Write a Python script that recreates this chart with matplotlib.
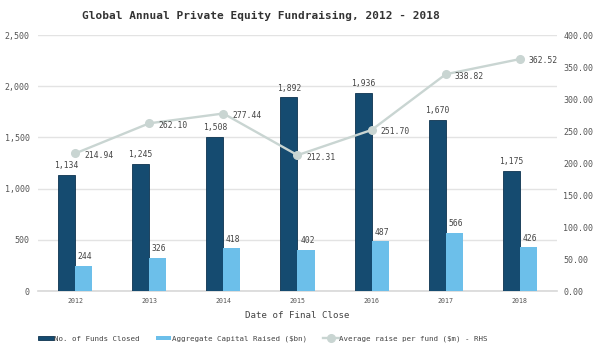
import matplotlib
matplotlib.use("Agg")
import matplotlib.pyplot as plt
import numpy as np

years = ["2012", "2013", "2014", "2015", "2016", "2017", "2018"]
funds_closed = [1134, 1245, 1508, 1892, 1936, 1670, 1175]
capital_raised = [244, 326, 418, 402, 487, 566, 426]
avg_raise = [214.94, 262.10, 277.44, 212.31, 251.70, 338.82, 362.52]

plt.rcParams["font.family"] = ["DejaVu Sans Mono"]

dark = "#154b70"
light = "#6cbfea"
line_col = "#c9d5d2"
text_col = "#444444"

fig = plt.figure(figsize=(6, 3.53), dpi=100)
ax = fig.add_axes([0.0633, 0.1756, 0.865, 0.725])
ax2 = ax.twinx()

x = np.arange(len(years))
w = 0.23
b1 = ax.bar(x - w / 2, funds_closed, w, color=dark, edgecolor="#0d3350",
            linewidth=0.6, label="No. of Funds Closed", zorder=3)
b2 = ax.bar(x + w / 2, capital_raised, w, color=light,
            label="Aggregate Capital Raised ($bn)", zorder=3)

for xi, v in zip(x, funds_closed):
    ax.text(xi - w / 2, v + 45, f"{v:,}", ha="center", va="bottom",
            fontsize=5.8, color=text_col, zorder=4)
for xi, v in zip(x, capital_raised):
    ax.text(xi + w / 2 + 0.02, v + 45, f"{v}", ha="center", va="bottom",
            fontsize=5.8, color=text_col, zorder=4)

ln, = ax2.plot(x, avg_raise, color=line_col, linewidth=1.7, marker="o",
               markersize=5.5, label="Average raise per fund ($m) - RHS", zorder=5)
for xi, v in zip(x, avg_raise):
    ax2.text(xi + 0.12, v - 3, f"{v:.2f}", ha="left", va="center",
             fontsize=5.8, color=text_col, zorder=6)

ax.set_xlim(-0.5, 6.5)
ax.set_ylim(0, 2500)
ax2.set_ylim(0, 400)
ax.set_yticks(np.arange(0, 2501, 500))
ax.set_yticklabels([f"{v:,}" for v in range(0, 2501, 500)])
ax2.set_yticks(np.arange(0, 401, 50))
ax2.set_yticklabels([f"{v:.2f}" for v in range(0, 401, 50)])
ax.set_xticks(x)
ax.set_xticklabels(years)

ax.grid(axis="y", color="#e3e3e3", linewidth=1, zorder=0)
ax.set_axisbelow(True)
for a in (ax, ax2):
    for s in a.spines.values():
        s.set_visible(False)
    a.tick_params(length=0, labelsize=6, colors="#555555")
ax.spines["bottom"].set_visible(True)
ax.spines["bottom"].set_color("#d8d8d8")
ax.spines["bottom"].set_linewidth(1.2)
ax.tick_params(axis="x", labelsize=4.8, pad=5)
ax.tick_params(axis="y", pad=6)
ax2.tick_params(axis="y", pad=4.5)

ax.set_xlabel("Date of Final Close", fontsize=6.6, color="#444444", labelpad=5)
fig.text(0.435, 0.955, "Global Annual Private Equity Fundraising, 2012 - 2018",
         ha="center", va="center", fontsize=8, fontweight="bold", color="#333333")

fig.legend(handles=[b1, b2, ln], loc="center", ncol=3, frameon=False,
           fontsize=5.4, bbox_to_anchor=(0.438, 0.04), handlelength=2.1,
           handleheight=0.35, columnspacing=2.1, handletextpad=0.1,
           labelcolor="#444444")

fig.savefig("out.png", dpi=100)
